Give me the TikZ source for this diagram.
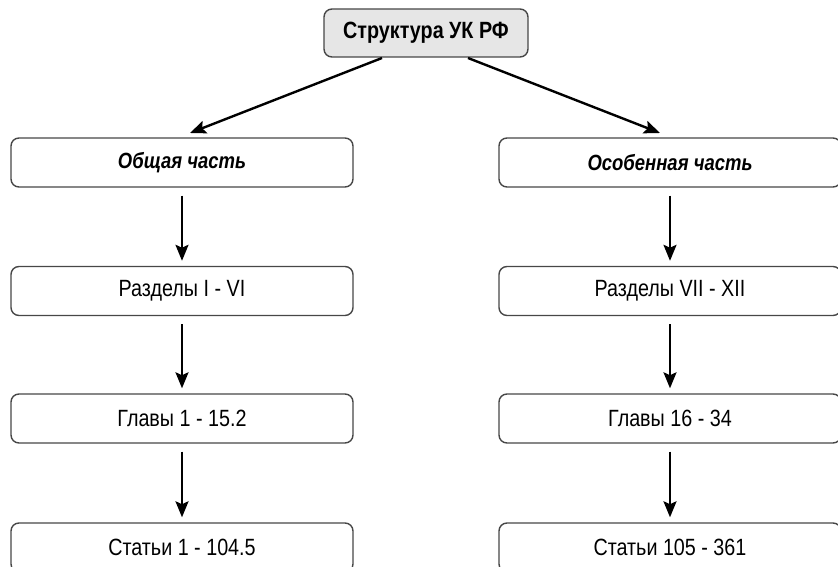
\documentclass[tikz,border=0pt]{standalone}
\usepackage{fontspec}
\setmainfont[FakeStretch=0.84]{Liberation Sans}
\usetikzlibrary{arrows.meta}
\definecolor{boxline}{HTML}{474747}
\definecolor{topfill}{HTML}{E6E6E6}
\tikzset{
  box/.style={draw=boxline, line width=1.4pt, rounded corners=8pt, minimum width=342pt, minimum height=49pt, inner sep=0pt, font=\fontsize{23.5}{26}\selectfont},
  topbox/.style={box, fill=topfill, minimum width=204pt, minimum height=48pt, font=\fontsize{23.5}{26}\selectfont\bfseries},
  parttext/.style={font=\fontsize{22}{26}\selectfont\bfseries\itshape},
  arr/.style={line width=2.4pt, -{Stealth[length=16pt,width=13pt,inset=3pt]}},
}
\begin{document}
\begin{tikzpicture}[x=1pt,y=-1pt]
\useasboundingbox (0,0) rectangle (838,567);
\node[topbox] (top) at (426,33) {Структура УК РФ};
\node[box, parttext] (l1) at (182,162.5) {Общая часть};
\node[box] (l2) at (182,291) {Разделы I - VI};
\node[box] (l3) at (182,418.5) {Главы 1 - 15.2};
\node[box] (l4) at (182,547.5) {Статьи 1 - 104.5};
\node[box, parttext] (r1) at (670,162.5) {Особенная часть};
\node[box] (r2) at (670,291) {Разделы VII - XII};
\node[box] (r3) at (670,418.5) {Главы 16 - 34};
\node[box] (r4) at (670,547.5) {Статьи 105 - 361};
\coordinate (tl) at (382,58);
\coordinate (tr) at (468,58);
\coordinate (tlend) at (190,133);
\coordinate (trend) at (660,133);
\draw[arr] (tl) -- (tlend);
\draw[arr] (tr) -- (trend);
\foreach \a/\b in {l1/l2,l2/l3,l3/l4,r1/r2,r2/r3,r3/r4}{
  \draw[arr] ([yshift=-8pt]\a.south) -- ([yshift=5pt]\b.north);
}
\end{tikzpicture}
\end{document}
